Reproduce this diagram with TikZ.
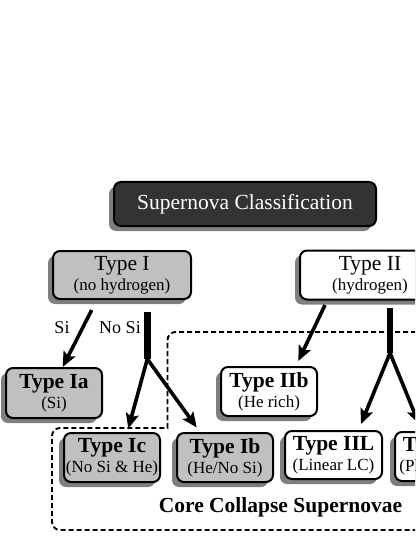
\documentclass[tikz,border=0pt]{standalone}
\usepackage{fontspec}
\setmainfont{Liberation Serif}
\usetikzlibrary{arrows.meta,shadows}
\definecolor{boxgray}{HTML}{C0C0C0}
\definecolor{shadowgray}{HTML}{7F7F7F}
\definecolor{titlefill}{HTML}{333333}
\newcommand\sublinefont{\fontsize{17}{20}\selectfont}
\newcommand\mainlinefont{\fontsize{21.5}{20}\selectfont}
\begin{document}
\begin{tikzpicture}[x=1pt,y=-1pt,
  box/.style={draw=black, line width=2pt, rounded corners=7pt,
    minimum width=96pt, minimum height=49pt, inner sep=0pt, align=center,
    font=\mainlinefont,
    drop shadow={shadow xshift=-5pt, shadow yshift=-5pt, fill=shadowgray, opacity=1}},
  graybox/.style={box, fill=boxgray},
  whitebox/.style={box, fill=white},
  arr/.style={line width=3.6pt, -{Stealth[length=15pt,width=13pt,inset=3pt]}},
  stem/.style={line width=6.5pt},
  lbl/.style={font=\fontsize{18}{20}\selectfont, inner sep=0pt},
  region/.style={line width=1.9pt, dash pattern=on 5pt off 3pt}]
\useasboundingbox (0,0) rectangle (415,537);
\clip (0,0) rectangle (415,537);

% title
\node[box, fill=titlefill, text=white, minimum width=262pt, minimum height=44pt] (title) at (245,204) {Supernova Classification};

% level 1
\node[graybox, minimum width=138pt, minimum height=48pt] (t1) at (122,275) {Type I\\\sublinefont(no hydrogen)};
\node[whitebox, minimum width=140pt, minimum height=49pt] (t2) at (370,275) {Type II\\\sublinefont(hydrogen)};

% level 2
\node[graybox, minimum height=50pt] (ia) at (54,393) {\bfseries Type Ia\\\sublinefont(Si)};
\node[whitebox] (iib) at (269,391.5) {\bfseries Type IIb\\\sublinefont(He rich)};

% level 3
\node[graybox] (ic) at (112,457.5) {\bfseries Type Ic\\\sublinefont(No Si \& He)};
\node[graybox] (ib) at (225,457.5) {\bfseries Type Ib\\\sublinefont(He/No Si)};
\node[whitebox, minimum width=97pt, minimum height=48pt] (iil) at (333.5,455) {\bfseries Type IIL\\\sublinefont(Linear LC)};
\node[whitebox] (iip) at (443,456.5) {\bfseries Type IIP\\\sublinefont(Plateau LC)};

% labels
\node[lbl] (si) at (62,328) {Si};
\node[lbl] (nosi) at (120,328) {No Si};
\node[font=\bfseries\fontsize{21.5}{24}\selectfont] (ccsn) at (280.5,507) {Core Collapse Supernovae};

% dashed core-collapse region
\draw[region] (520,332) [rounded corners=8pt] -- (167.5,332) [sharp corners] -- (167.5,428) [rounded corners=8pt] -- (52,428) -- (52,530) -- (520,530);

% connectors Type I
\coordinate (siA) at (91.7,310);
\coordinate (siB) at (62.7,367);
\draw[arr] (siA) -- (siB);
\coordinate (s1top) at (147.3,311.5);
\coordinate (s1split) at (147.3,359);
\coordinate (icTip) at (128.3,428.5);
\coordinate (ibTip) at (196.7,427.5);
\draw[stem] (s1top) -- (s1split);
\draw[arr] (s1split) -- (icTip);
\draw[arr] (s1split) -- (ibTip);

% connectors Type II
\coordinate (iibA) at (325,305);
\coordinate (iibB) at (298.3,361);
\draw[arr] (iibA) -- (iibB);
\coordinate (s2top) at (390,308);
\coordinate (s2split) at (390,353);
\coordinate (iilTip) at (361,424);
\coordinate (iipTip) at (419,424);
\draw[stem] (s2top) -- (s2split);
\draw[arr] (s2split) -- (iilTip);
\draw[arr] (s2split) -- (iipTip);
\end{tikzpicture}
\end{document}
